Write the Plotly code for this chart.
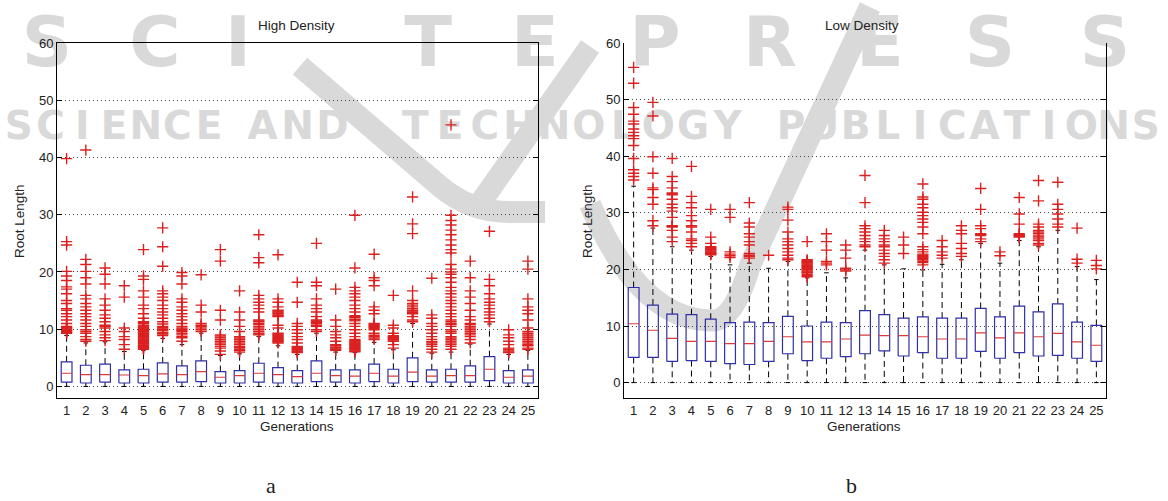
import plotly.graph_objects as go

W, H = 1168, 501

# ---------------------------------------------------------------- data
generations = list(range(1, 26))
gen_labels = [str(g) for g in generations]
y_ticks = [0, 10, 20, 30, 40, 50, 60]

# High density: box statistics per generation
hd_q1 = [0.75, 0.6, 0.75, 0.6, 0.6, 0.75, 0.75, 0.85, 0.6, 0.6, 0.75, 0.6, 0.6,
         0.85, 0.75, 0.6, 0.85, 0.6, 0.85, 0.75, 0.75, 0.75, 1.0, 0.6, 0.6]
hd_med = [2.3, 2.05, 2.05, 2.0, 1.9, 2.2, 2.05, 2.6, 1.6, 1.9, 2.3, 2.05, 1.7,
          2.3, 1.9, 1.8, 2.3, 1.8, 2.5, 1.8, 1.9, 1.9, 3.0, 1.6, 1.8]
hd_q3 = [4.3, 3.7, 3.9, 2.9, 3.0, 4.1, 3.6, 4.45, 2.6, 2.75, 4.05, 3.3, 2.75,
         4.45, 2.9, 2.9, 3.9, 3.0, 5.0, 2.9, 3.0, 3.6, 5.2, 2.75, 2.9]
hd_lo = [0.0] * 25
hd_hi = [8.9, 7.6, 7.8, 6.1, 6.3, 8.4, 7.3, 9.3, 5.4, 5.7, 8.7, 7.1, 5.6,
         9.3, 6.0, 5.9, 7.7, 6.4, 11.0, 5.8, 6.0, 7.4, 10.9, 5.6, 6.3]
hd_outliers = [
    [39.8, 25.3, 24.7, 20.1, 19.3, 18.5, 17.4, 17.0, 16.2, 15.0, 14.5, 13.6, 13.3, 12.7,
     12.2, 11.6, 11.0, 10.5, 10.35, 10.2, 10.05, 9.9, 9.75, 9.6, 9.45, 9.3],
    [41.3, 22.2, 21.3, 20.1, 19.0, 17.9, 15.9, 15.3, 14.5, 13.9, 13.3, 12.7, 12.2, 11.6,
     11.0, 10.5, 9.9, 9.6, 9.3, 8.7, 8.2, 7.9],
    [20.7, 19.6, 17.9, 15.3, 14.2, 13.3, 12.5, 11.9, 11.3, 10.7, 10.5, 10.2, 9.6, 9.0,
     8.5, 8.0],
    [17.6, 15.6, 10.2, 9.6, 8.7, 8.2, 7.3, 6.5],
    [23.9, 19.3, 18.7, 16.7, 15.6, 14.2, 13.6, 12.7, 11.9, 11.3, 11.15, 11.0, 10.7, 10.55,
     10.4, 10.25, 10.1, 9.95, 9.8, 9.65, 9.5, 9.35, 9.2, 9.05, 8.9, 8.75, 8.6, 8.45, 8.3,
     8.15, 8.0, 7.85, 7.7, 7.55, 7.4, 7.25, 7.1, 6.95, 6.8, 6.65, 6.5],
    [27.7, 24.4, 21.0, 16.7, 16.2, 15.6, 15.0, 14.2, 13.6, 13.0, 12.5, 11.9, 11.3, 10.9,
     10.5, 10.25, 10.05, 9.9, 9.75, 9.45, 9.3, 9.15, 8.9],
    [19.9, 19.3, 17.9, 15.3, 14.7, 13.9, 13.3, 12.7, 12.2, 11.6, 11.0, 10.5, 10.2, 10.0,
     9.8, 9.6, 9.3, 9.0, 8.7, 8.5, 7.9],
    [19.5, 14.2, 13.0, 11.0, 10.7, 10.5, 10.2, 9.9, 9.6],
    [23.9, 21.9, 13.3, 11.6, 9.0, 8.8, 8.5, 8.2, 7.9, 7.6, 7.3, 7.0, 6.7, 6.2, 5.6],
    [16.7, 13.0, 11.6, 10.5, 9.6, 8.7, 8.45, 8.2, 7.9, 7.6, 7.3, 7.0, 6.75, 6.5, 6.25,
     6.0],
    [26.5, 22.5, 21.6, 15.9, 15.3, 14.7, 14.2, 13.6, 13.0, 11.6, 11.45, 11.3, 11.0, 10.8,
     10.5, 10.2, 9.9, 9.6, 9.3, 9.15, 9.0],
    [23.0, 15.3, 14.7, 13.9, 13.3, 13.15, 13.0, 12.85, 12.7, 12.5, 12.35, 12.2, 10.7,
     10.2, 9.3, 9.15, 9.0, 8.85, 8.7, 8.5, 8.35, 8.2, 8.05, 7.9, 7.75, 7.6],
    [18.2, 14.7, 11.0, 10.5, 9.9, 9.3, 8.7, 8.2, 7.6, 7.0, 6.85, 6.65, 6.5, 6.35, 6.2,
     6.05, 5.9],
    [25.0, 18.2, 17.6, 15.3, 14.2, 13.6, 13.0, 12.2, 11.6, 11.45, 11.3, 11.15, 11.0,
     10.7, 10.5, 9.9, 9.6],
    [17.0, 11.6, 10.5, 9.6, 9.0, 8.5, 7.9, 7.3, 7.1, 6.85, 6.7, 6.5, 6.3],
    [29.9, 20.7, 17.3, 16.7, 16.2, 15.6, 15.0, 14.2, 13.6, 13.0, 12.35, 12.2, 12.05, 11.75,
     11.6, 11.45, 11.0, 10.5, 9.9, 9.3, 8.7, 8.2, 8.05, 7.9, 7.75, 7.6, 7.45, 7.3, 7.15,
     7.0, 6.85, 6.7, 6.6, 6.5, 6.35, 6.2, 6.05],
    [23.1, 19.0, 18.5, 17.6, 13.9, 13.3, 12.7, 11.0, 10.85, 10.65, 10.5, 10.35, 10.15,
     9.9, 9.3, 8.95, 8.7, 8.45, 8.2],
    [15.9, 10.7, 10.2, 9.3, 8.85, 8.7, 8.6, 8.5, 8.35, 8.2, 8.1, 7.9, 7.3, 6.7],
    [33.1, 28.4, 26.7, 16.7, 15.0, 14.5, 14.2, 13.9, 13.6, 13.3, 13.15, 12.95, 12.7, 12.2,
     11.6, 11.3],
    [18.9, 12.5, 11.9, 11.0, 10.5, 9.9, 9.3, 8.7, 8.2, 7.8, 7.6, 7.3, 7.0, 6.5, 6.0],
    [45.7, 29.9, 29.0, 28.2, 27.3, 26.5, 25.6, 24.7, 23.9, 23.3, 21.3, 20.5, 20.0, 19.6,
     19.0, 18.2, 17.3, 16.7, 16.2, 15.6, 15.0, 14.5, 13.9, 13.3, 12.7, 12.2, 11.6, 11.3,
     11.0, 10.8, 10.5, 9.9, 9.6, 9.3, 8.7, 8.45, 8.2, 7.9, 7.6, 7.3, 7.0, 6.5],
    [21.9, 19.0, 16.7, 15.6, 14.5, 13.3, 12.2, 11.6, 11.0, 10.8, 10.5, 10.2, 9.9, 9.6,
     9.3, 9.0, 8.7, 8.2, 7.6],
    [27.1, 18.7, 17.6, 16.2, 15.3, 14.7, 14.2, 13.6, 13.0, 12.5, 11.9, 11.3],
    [9.9, 9.0, 8.5, 7.9, 7.3, 6.7, 6.45, 6.2, 6.0, 5.9],
    [21.9, 20.5, 15.3, 13.9, 13.3, 12.7, 11.6, 10.2, 9.6, 9.3, 9.0, 8.8, 8.5, 8.2, 7.9,
     7.6, 7.3, 7.1, 6.7, 6.5],
]

# Low density: box statistics per generation
ld_q1 = [4.45, 4.45, 3.75, 3.9, 3.75, 3.35, 3.2, 3.75, 5.1, 3.9, 4.3, 4.6, 5.1,
         5.6, 4.7, 5.3, 4.3, 4.3, 5.5, 4.3, 5.3, 4.7, 4.8, 4.3, 3.75]
ld_med = [10.4, 9.25, 7.8, 7.3, 7.3, 6.9, 6.9, 7.3, 8.1, 7.2, 7.2, 7.7, 8.4,
          8.3, 8.3, 8.1, 7.7, 7.7, 8.8, 7.9, 8.8, 8.1, 8.7, 7.2, 6.6]
ld_q3 = [16.8, 13.7, 12.1, 12.0, 11.2, 10.6, 10.7, 10.6, 11.7, 10.0, 10.7, 10.6, 12.7,
         12.0, 11.4, 11.6, 11.4, 11.4, 13.1, 11.6, 13.5, 12.5, 13.9, 10.7, 10.1]
ld_lo = [0.0] * 25
ld_hi = [34.7, 27.3, 24.0, 23.4, 22.3, 20.8, 21.1, 20.2, 21.4, 18.5, 19.4, 18.5, 23.4,
         20.8, 20.1, 19.9, 20.9, 21.7, 24.6, 21.1, 25.1, 24.0, 26.9, 20.5, 18.2]
ld_outliers = [
    [55.7, 52.9, 48.6, 47.4, 46.2, 45.7, 44.8, 44.2, 43.6, 43.1, 41.9, 39.6, 37.6, 37.0,
     36.4, 35.8],
    [49.5, 47.1, 39.9, 37.0, 34.4, 34.1, 32.7, 31.5, 28.6, 27.7],
    [39.6, 36.4, 35.5, 34.4, 33.5, 33.35, 33.2, 32.4, 31.5, 30.9, 30.3, 29.2, 27.7, 27.6,
     27.5, 26.9, 25.7, 24.9],
    [38.2, 32.9, 31.8, 30.9, 29.5, 28.6, 27.7, 27.5, 26.6, 25.4, 25.1, 24.6, 24.0],
    [30.6, 25.7, 24.6, 24.0, 23.85, 23.7, 23.55, 23.4, 23.25, 23.1, 22.95, 22.8, 22.7,
     22.6],
    [30.6, 29.2, 23.1, 22.7, 22.4, 22.1],
    [31.8, 28.2, 27.5, 26.3, 25.7, 24.9, 24.3, 22.8, 22.5, 22.3, 22.0],
    [22.5],
    [31.0, 30.6, 28.7, 26.6, 25.4, 24.9, 24.3, 23.7, 23.1, 22.5, 22.0, 21.7],
    [24.9, 21.7, 21.55, 21.4, 21.25, 21.1, 20.95, 20.8, 20.65, 20.5, 20.35, 20.2, 20.0,
     19.9, 19.7, 19.55, 19.4, 19.15, 18.9, 18.7],
    [26.3, 24.9, 23.4, 21.4, 21.1, 20.8],
    [24.3, 23.4, 22.0, 20.2, 19.9, 19.7],
    [36.6, 31.8, 27.7, 27.2, 26.6, 26.0, 25.4, 24.9, 24.3, 24.0],
    [26.9, 26.0, 25.4, 24.9, 24.3, 24.0, 23.4, 22.8, 22.3, 21.7, 21.1],
    [25.7, 24.3, 22.8],
    [35.1, 32.8, 32.4, 31.5, 30.9, 30.1, 29.5, 28.9, 28.3, 27.5, 26.3, 24.0, 23.5, 23.1,
     22.7, 22.5, 22.3, 22.1, 21.95, 21.7, 21.45, 21.2, 20.8],
    [25.1, 24.0, 23.1, 22.5, 22.0],
    [27.7, 26.9, 26.3, 24.6, 23.7, 22.8, 22.3],
    [34.3, 30.6, 27.7, 27.2, 26.3, 26.15, 26.0, 25.4, 24.9],
    [23.1, 22.4],
    [32.7, 29.8, 28.0, 26.3, 26.15, 26.0, 25.85, 25.7],
    [35.7, 32.1, 28.0, 27.5, 26.9, 26.6, 26.3, 25.9, 25.7, 25.4, 25.1, 24.6, 24.3],
    [35.4, 31.5, 30.6, 29.8, 28.9, 28.0, 27.5],
    [27.3, 21.8, 21.1],
    [21.6, 20.7, 20.1],
]

# ---------------------------------------------------------------- styling
BOX_BLUE = "#2f2fa6"
MED_RED = "#d83a3a"
OUT_RED = "#dc2020"
TXT = "#222222"
WM = "#d9d9d9"
FONT = "Liberation Sans, Arial, sans-serif"
BOX_HALF = 0.28
CAP_HALF = 0.12


def px(x):
    return x / W


def py(y):
    return 1 - y / H


def box_traces(q1, med, q3, lo, hi, outl, xa, ya):
    wx, wy, cx, cy, bx, by, mx, my, ox, oy = ([] for _ in range(10))
    for g, a, m, b, l, h, o in zip(generations, q1, med, q3, lo, hi, outl):
        wx += [g, g, None, g, g, None]
        wy += [b, h, None, a, l, None]
        cx += [g - CAP_HALF, g + CAP_HALF, None, g - CAP_HALF, g + CAP_HALF, None]
        cy += [h, h, None, l, l, None]
        bx += [g - BOX_HALF, g + BOX_HALF, g + BOX_HALF, g - BOX_HALF, g - BOX_HALF, None]
        by += [a, a, b, b, a, None]
        mx += [g - BOX_HALF, g + BOX_HALF, None]
        my += [m, m, None]
        ox += [g] * len(o)
        oy += o
    common = dict(xaxis=xa, yaxis=ya, showlegend=False, hoverinfo="skip")
    return [
        go.Scatter(x=wx, y=wy, mode="lines",
                   line=dict(color="black", width=1, dash="6px,4px"), **common),
        go.Scatter(x=cx, y=cy, mode="lines", line=dict(color="black", width=1), **common),
        go.Scatter(x=bx, y=by, mode="lines", line=dict(color=BOX_BLUE, width=1.2), **common),
        go.Scatter(x=mx, y=my, mode="lines", line=dict(color=MED_RED, width=1.2), **common),
        go.Scatter(x=ox, y=oy, mode="markers",
                   marker=dict(symbol="cross-thin", size=8,
                               line=dict(color=OUT_RED, width=1.4)), **common),
    ]


fig = go.Figure()
for t in box_traces(hd_q1, hd_med, hd_q3, hd_lo, hd_hi, hd_outliers, "x", "y"):
    fig.add_trace(t)
for t in box_traces(ld_q1, ld_med, ld_q3, ld_lo, ld_hi, ld_outliers, "x2", "y2"):
    fig.add_trace(t)

xcommon = dict(range=[0.5, 25.5], tickmode="array", tickvals=generations,
               ticktext=gen_labels, showgrid=False, zeroline=False, showline=True,
               linecolor="black", linewidth=1, ticks="",
               tickfont=dict(family=FONT, size=13, color=TXT))
ycommon = dict(tickmode="array", tickvals=y_ticks, showgrid=True, gridcolor="#444444",
               griddash="1px,3px", gridwidth=1, zeroline=False, showline=True,
               linecolor="black", linewidth=1, ticks="inside", ticklen=5,
               tickcolor="black", mirror="ticks",
               tickfont=dict(family=FONT, size=13, color=TXT))

ydom = [py(397), py(36.5)]
fig.update_layout(
    width=W, height=H,
    margin=dict(l=0, r=0, t=0, b=0),
    paper_bgcolor="white", plot_bgcolor="rgba(0,0,0,0)",
    xaxis=dict(domain=[px(57), px(537.5)], anchor="y", mirror=True, **xcommon),
    yaxis=dict(domain=ydom, anchor="x", range=[-2.1, 60], **ycommon),
    xaxis2=dict(domain=[px(624), px(1106)], anchor="y2", mirror=False, **xcommon),
    yaxis2=dict(domain=ydom, anchor="x2", range=[-2.8, 60], **ycommon),
)

# ---------------------------------------------------------------- text labels
def label(text, x, y, size=14, angle=0, family=FONT):
    fig.add_annotation(text=text, x=px(x), y=py(y), xref="paper", yref="paper",
                       showarrow=False, xanchor="center", yanchor="middle",
                       textangle=angle, font=dict(family=family, size=size, color=TXT))


label("High Density", 296, 19, 13.5)
label("Low Density", 862, 19, 13.5)
label("Generations", 297, 425, 13.5)
label("Generations", 864, 425, 13.5)
label("Root Length", 20, 217, 13.5, -90)
label("Root Length", 588, 217, 13.5, -90)
label("a", 271, 485, 22, family="Liberation Serif, Times New Roman, serif")
label("b", 851, 485, 22, family="Liberation Serif, Times New Roman, serif")

# ---------------------------------------------------------------- publisher watermark
shapes = []


def wm_text(txt, cx, cy, size):
    shapes.append(dict(
        type="rect", xref="paper", yref="paper",
        x0=px(cx - 40), x1=px(cx + 40), y0=py(cy + 20), y1=py(cy - 20),
        line=dict(width=0), fillcolor="rgba(0,0,0,0)", layer="below",
        label=dict(text=txt, textposition="middle center",
                   font=dict(family="DejaVu Sans", size=size, color=WM, weight="bold"))))


big_letters = ["S", "C", "I", "T", "E", "P", "R", "E", "S", "S"]
big_centers = [47, 155, 238, 428, 535, 655, 770, 880, 990, 1105]
for ch, cx in zip(big_letters, big_centers):
    wm_text(ch, cx, 30, 70)

words = [("SCIENCE", 3, 225), ("AND", 245, 350), ("TECHNOLOGY", 398, 745),
         ("PUBLICATIONS", 775, 1162)]
for word, x0, x1 in words:
    step = (x1 - x0) / len(word)
    for i, ch in enumerate(word):
        wm_text(ch, x0 + (i + 0.5) * step, 117, 39)


def wm_path(points):
    d = "M " + " ".join(
        (f"{p} " if isinstance(p, str) else f"{px(p[0]):.5f},{py(p[1]):.5f} ")
        for p in points)
    shapes.append(dict(type="path", xref="paper", yref="paper", path=d.strip(),
                       line=dict(color=WM, width=22), layer="below"))


wm_path([(300, 60), "L", (440, 182), "Q", (470, 208), (510, 208), "L", (545, 208)])
wm_path([(476, 205), "L", (590, 40)])
wm_path([(590, 200), "Q", (640, 320), (715, 318), "Q", (735, 315), (750, 262),
         "L", (870, 0)])

fig.update_layout(shapes=shapes)

fig.write_html("out.html")
